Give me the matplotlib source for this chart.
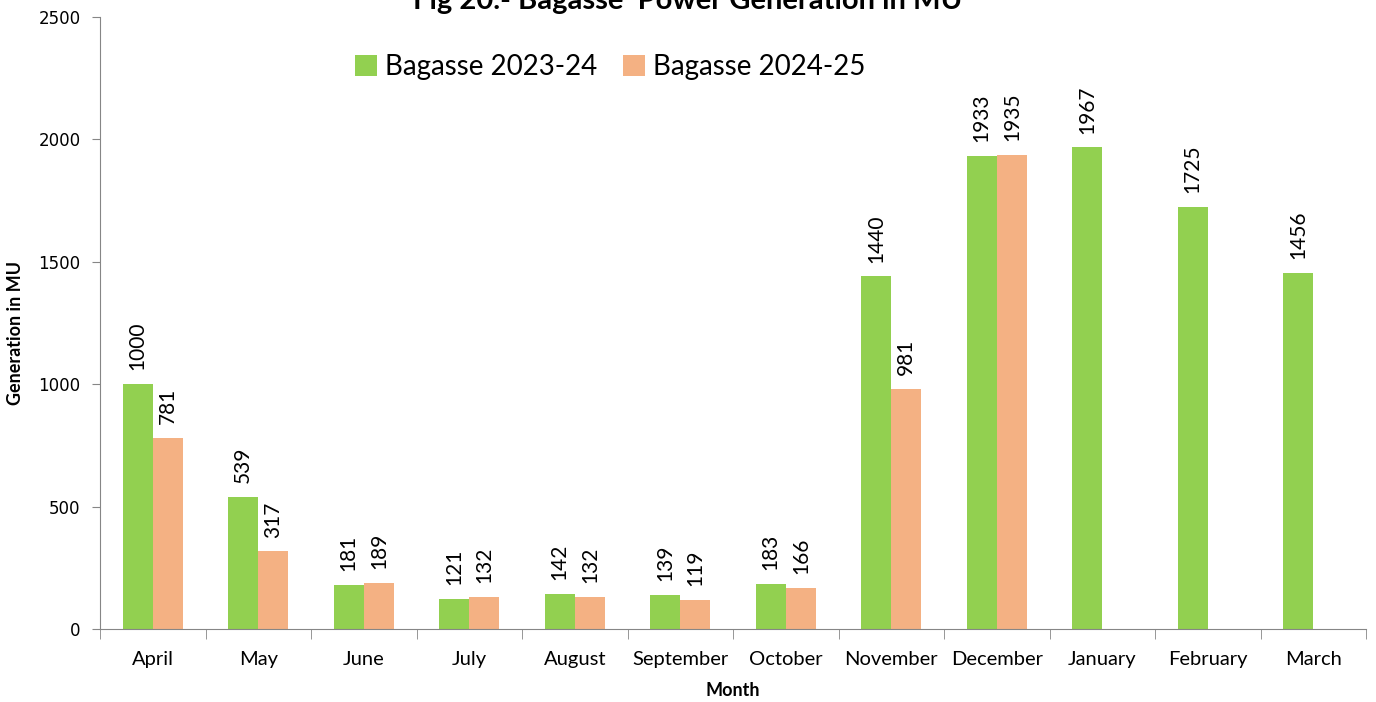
import matplotlib
matplotlib.use("Agg")
import matplotlib.pyplot as plt
import numpy as np

months = ["April", "May", "June", "July", "August", "September", "October",
          "November", "December", "January", "February", "March"]
bagasse_2023_24 = [1000, 539, 181, 121, 142, 139, 183, 1440, 1933, 1967, 1725, 1456]
bagasse_2024_25 = [781, 317, 189, 132, 132, 119, 166, 981, 1935]
series_names = ["Bagasse 2023-24", "Bagasse 2024-25"]
title = "Fig 20.- Bagasse  Power Generation in MU"

green = "#92D050"
orange = "#F4B183"
axis_grey = "#868686"

fig = plt.figure(figsize=(13.76, 7.02), dpi=100)
ax = fig.add_axes([100/1376, 1-629/702, 1266/1376, 612/702])

x = np.arange(len(months))
w = 0.285
x2 = np.arange(len(bagasse_2024_25))
b1 = ax.bar(x - w/2, bagasse_2023_24, width=w, color=green, label=series_names[0])
b2 = ax.bar(x2 + w/2, bagasse_2024_25, width=w, color=orange, label=series_names[1])

for bars, vals in ((b1, bagasse_2023_24), (b2, bagasse_2024_25)):
    for rect, v in zip(bars, vals):
        ax.annotate(str(v), (rect.get_x() + rect.get_width()/2, rect.get_height()),
                    xytext=(0, 10), textcoords="offset points", rotation=90,
                    ha="center", va="bottom", fontsize=15, family="Lato")

ax.set_xlim(-0.5, len(months) - 0.5)
ax.set_ylim(0, 2500)
ax.set_yticks([0, 500, 1000, 1500, 2000, 2500])
ax.tick_params(axis="y", labelsize=12, direction="out", length=6, color=axis_grey, pad=8)
ax.set_xticks(x)
ax.set_xticklabels(months, fontsize=14.5, family="Lato")
ax.set_xticks(np.arange(len(months) + 1) - 0.5, minor=True)
ax.tick_params(axis="x", which="major", length=0, pad=16)
ax.tick_params(axis="x", which="minor", length=7, color=axis_grey, direction="out")

for s in ("top", "right"):
    ax.spines[s].set_visible(False)
for s in ("left", "bottom"):
    ax.spines[s].set_color(axis_grey)

ax.set_ylabel("Generation in MU", fontsize=13, fontweight="bold", family="Lato", va="center")
ax.yaxis.set_label_coords(-0.0664, 0.484)
ax.set_xlabel("Month", fontsize=13, fontweight="bold", family="Lato", va="center")
ax.xaxis.set_label_coords(0.5, -0.0997)

leg = ax.legend(loc="upper center", bbox_to_anchor=(0.403, 0.98), ncol=2, frameon=False,
                prop={"family": "Lato", "size": 20}, handlelength=0.8, handleheight=0.8,
                handletextpad=0.3, columnspacing=0.9)

fig.text(0.5, 1 - 1/702, title, ha="center", va="center", fontsize=21,
         fontweight="bold", family="Lato")

fig.savefig("out.png", dpi=100)
